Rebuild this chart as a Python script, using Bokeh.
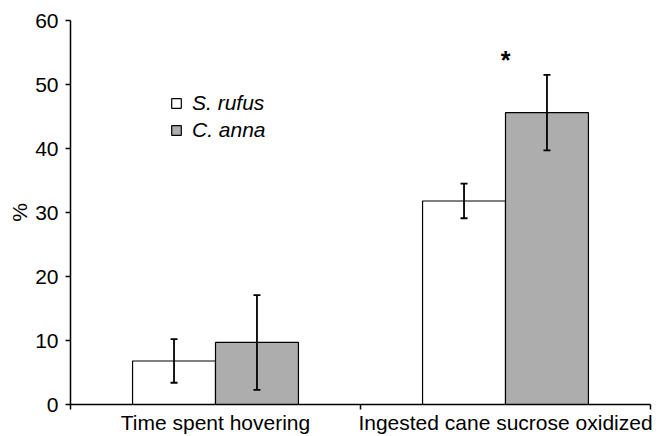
from bokeh.plotting import figure
from bokeh.models import (Range1d, FixedTicker, Whisker, ColumnDataSource,
                          Legend, LegendItem, TeeHead)
from bokeh.core.properties import value
from bokeh.embed import file_html
from bokeh.resources import INLINE

# ---- data ----
categories = ["Time spent hovering", "Ingested cane sucrose oxidized"]
cat_pos = [0.5, 1.5]
species = ["S. rufus", "C. anna"]
rufus_mean = [6.8, 31.8]
rufus_err = [3.4, 2.7]
anna_mean = [9.7, 45.6]
anna_err = [7.4, 5.9]
significant = [False, True]
y_ticks = [0, 10, 20, 30, 40, 50, 60]

FONT = "Liberation Sans"
BAR_W = 0.286
OFF = BAR_W / 2

p = figure(width=671, height=436, output_backend="svg", toolbar_location=None,
           x_range=Range1d(0, 2), y_range=Range1d(0, 60),
           min_border_left=70, min_border_right=21, min_border_top=20,
           min_border_bottom=32)
p.outline_line_color = None
p.xgrid.visible = False
p.ygrid.visible = False
p.background_fill_color = "white"

rx = [c - OFF for c in cat_pos]
ax = [c + OFF for c in cat_pos]

src_r = ColumnDataSource(dict(x=rx, top=rufus_mean,
                              upper=[m + e for m, e in zip(rufus_mean, rufus_err)],
                              lower=[m - e for m, e in zip(rufus_mean, rufus_err)]))
src_a = ColumnDataSource(dict(x=ax, top=anna_mean,
                              upper=[m + e for m, e in zip(anna_mean, anna_err)],
                              lower=[m - e for m, e in zip(anna_mean, anna_err)]))

r1 = p.vbar(x="x", top="top", width=BAR_W, source=src_r, fill_color="white",
            line_color="black", line_width=1.2)
r2 = p.vbar(x="x", top="top", width=BAR_W, source=src_a, fill_color="#adadad",
            line_color="black", line_width=1.2)

for src in (src_r, src_a):
    w = Whisker(base="x", upper="upper", lower="lower", source=src,
                line_color="black", line_width=1.8, level="overlay",
                upper_head=TeeHead(size=7, line_width=1.8, line_color="black"),
                lower_head=TeeHead(size=7, line_width=1.8, line_color="black"))
    p.add_layout(w)

star_x = [c for c, s in zip(cat_pos, significant) if s]
star_y = [m + e + 2.4 for m, e, s in zip(anna_mean, anna_err, significant) if s]
p.text(x=star_x, y=star_y, text=["*"] * len(star_x), text_align="center",
       text_baseline="alphabetic", text_font=value(FONT), text_font_size="25px",
       text_font_style="bold", text_color="black")

# axes
p.xaxis.ticker = FixedTicker(ticks=cat_pos, minor_ticks=[0, 1, 2])
p.xaxis.major_label_overrides = {c: lab for c, lab in zip(cat_pos, categories)}
p.xaxis.major_tick_out = 0
p.xaxis.major_tick_in = 0
p.xaxis.minor_tick_out = 5
p.xaxis.minor_tick_in = 0
p.xaxis.major_label_standoff = 1
p.xaxis.major_label_text_font = FONT
p.xaxis.major_label_text_font_size = "21px"
p.xaxis.major_label_text_color = "black"

p.yaxis.ticker = FixedTicker(ticks=y_ticks)
p.yaxis.minor_tick_line_color = None
p.yaxis.major_tick_out = 5
p.yaxis.major_tick_in = 0
p.yaxis.major_label_standoff = 7
p.yaxis.major_label_text_font = FONT
p.yaxis.major_label_text_font_size = "21px"
p.yaxis.major_label_text_color = "black"
p.yaxis.axis_label = "%"
p.yaxis.axis_label_text_font = FONT
p.yaxis.axis_label_text_font_size = "21px"
p.yaxis.axis_label_text_font_style = "normal"
p.yaxis.axis_label_text_color = "black"
p.yaxis.axis_label_standoff = 1

for a in (p.xaxis, p.yaxis):
    a.axis_line_color = "black"
    a.axis_line_width = 1.5
    a.major_tick_line_color = "black"
    a.major_tick_line_width = 1.5
p.xaxis.minor_tick_line_color = "black"
p.xaxis.minor_tick_line_width = 1.5

legend = Legend(items=[LegendItem(label=species[0], renderers=[r1]),
                       LegendItem(label=species[1], renderers=[r2])],
                location=(100, 262), border_line_color=None,
                background_fill_alpha=0, label_text_font=FONT,
                label_text_font_style="italic", label_text_font_size="21px",
                label_text_color="black",
                glyph_width=12, glyph_height=12, padding=0, margin=0,
                spacing=3, label_standoff=10, label_height=20)
p.add_layout(legend)

open("out.html", "w").write(file_html(p, INLINE))
